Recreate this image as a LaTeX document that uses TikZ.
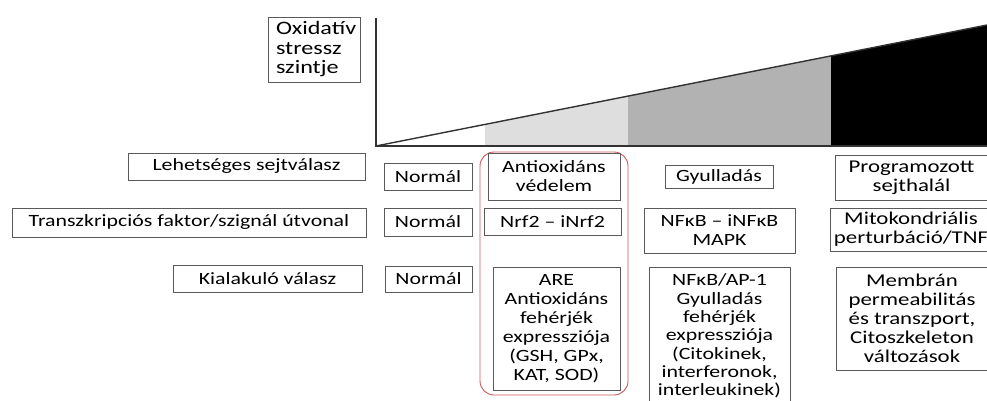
\documentclass[tikz,border=0pt]{standalone}
\usepackage{fontspec}
\setmainfont{Carlito}[FakeStretch=1.27]
\definecolor{boxgray}{RGB}{90,90,90}
\definecolor{redline}{RGB}{205,85,85}
\definecolor{lightg}{RGB}{222,222,222}
\definecolor{midg}{RGB}{178,178,178}
\definecolor{axisc}{RGB}{50,50,50}
\tikzset{
  box/.style={draw=boxgray, line width=0.8pt, inner sep=0pt, align=center,
    font=\fontsize{17.2}{19}\selectfont},
  bigbox/.style={box, font=\fontsize{18}{19}\selectfont},
}
\begin{document}
\begin{tikzpicture}[x=1pt,y=-1pt]
\useasboundingbox (0,0) rectangle (987,401);
\clip (0,0) rectangle (987,401);
% triangle chart
\coordinate (o) at (376,146);
\coordinate (top) at (376,18);
\coordinate (end) at (987,146);
\coordinate (tip) at (987,25);
\fill[lightg] (485,146) -- (485,124.4) -- (628,96.1) -- (628,146) -- cycle;
\fill[midg] (628,146) -- (628,96.1) -- (831,55.9) -- (831,146) -- cycle;
\fill[black] (831,146) -- (831,55.9) -- (987,25) -- (987,146) -- cycle;
\draw[axisc, line width=1.6pt] (top) -- (o) -- (end);
\draw[axisc, line width=1.4pt] (o) -- (tip);
% label box
\node[box, minimum width=92, minimum height=65, text width=76, align=left,
  font=\fontsize{19}{19.5}\selectfont] (ox) at (314,49.5) {Oxidatív\\stressz\\szintje};
% row labels
\node[box, minimum width=237, minimum height=27] (leh) at (246.5,166.5) {Lehetséges sejtválasz};
\node[box, minimum width=354, minimum height=29] (tra) at (189,222.5) {Transzkripciós faktor/szignál útvonal};
\node[box, minimum width=189, minimum height=27] (kia) at (267.5,278.5) {Kialakuló válasz};
% normal column
\node[box, minimum width=88, minimum height=27] (n1) at (428,176.5) {Normál};
\node[box, minimum width=88, minimum height=28] (n2) at (428,222) {Normál};
\node[box, minimum width=87, minimum height=26] (n3) at (428.5,279) {Normál};
% antioxidant column
\draw[redline, line width=0.9pt, rounded corners=14pt] (480,152) rectangle (628,395);
\node[box, minimum width=132, minimum height=47] (anti) at (554,176.5) {Antioxidáns\\védelem};
\node[box, minimum width=137, minimum height=27] (nrf) at (552.5,221.5) {Nrf2 – iNrf2};
\node[box, minimum width=127, minimum height=123] (are) at (556.5,328.5)
  {ARE\\Antioxidáns\\fehérjék\\expressziója\\(GSH, GPx,\\KAT, SOD)};
% inflammation column
\node[box, minimum width=108, minimum height=23] (gyu) at (719,176.5) {Gyulladás};
\node[box, minimum width=151, minimum height=45] (nfk) at (719.5,230.5) {NFκB – iNFκB\\MAPK};
\node[box, minimum width=141, inner ysep=6.5pt, anchor=north,
  font=\fontsize{17.2}{18.3}\selectfont] (nfap) at (719.5,267)
  {NFκB/AP-1\\Gyulladás\\fehérjék\\expressziója\\(Citokinek,\\interferonok,\\interleukinek)\\ \\ };
% cell death column
\node[bigbox, minimum width=153, minimum height=45] (prog) at (911.5,177.5) {Programozott\\sejthalál};
\node[bigbox, minimum width=162, minimum height=43] (mito) at (911,229.5) {Mitokondriális\\perturbáció/TNF};
\node[bigbox, minimum width=152, minimum height=103] (memb) at (912,318.5)
  {Membrán\\permeabilitás\\és transzport,\\Citoszkeleton\\változások};
\end{tikzpicture}
\end{document}
